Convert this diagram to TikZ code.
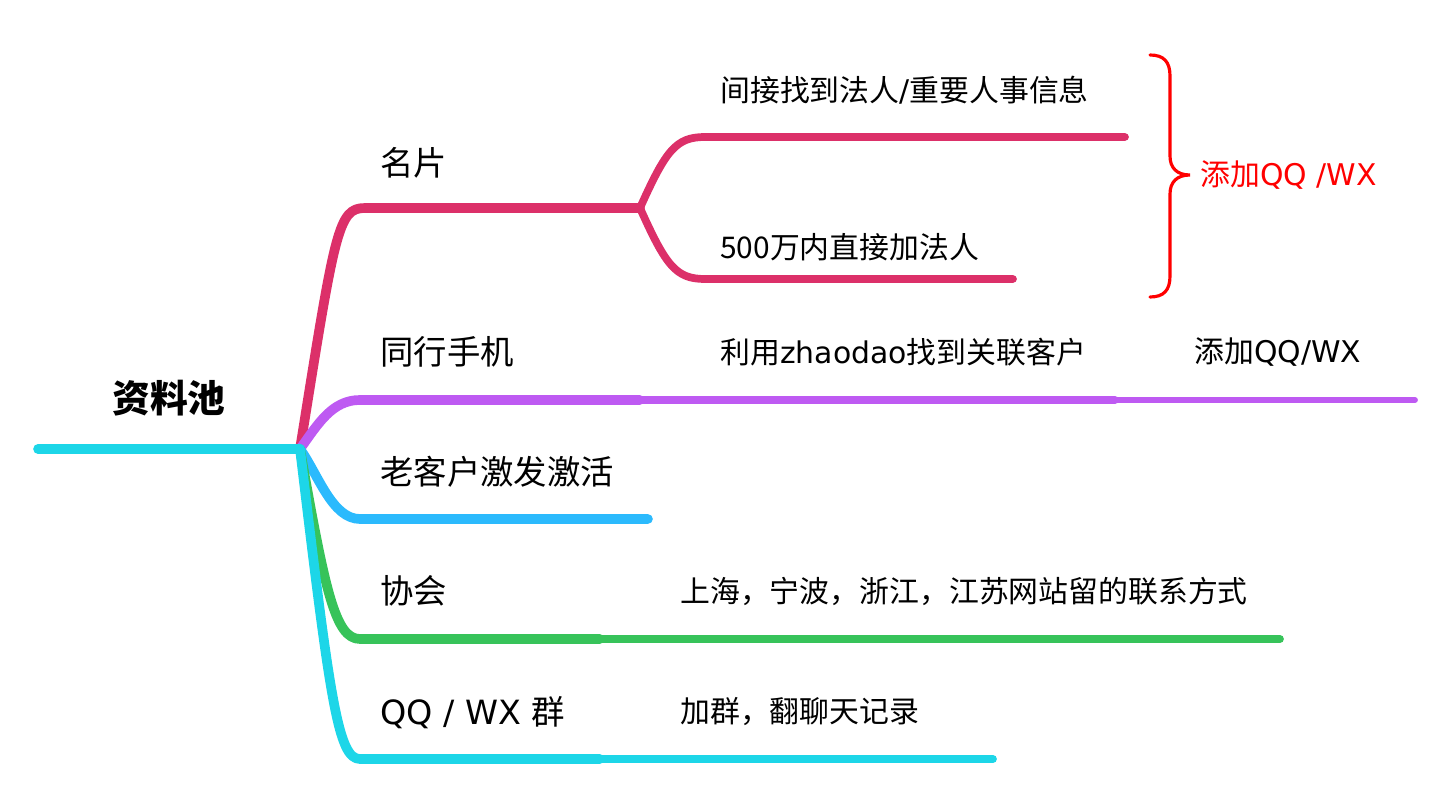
\documentclass[tikz,border=0pt]{standalone}
\usepackage{fontspec}
\newfontfamily\cjk{Noto Sans CJK SC}
\newfontfamily\latfont{DejaVu Sans}
\usetikzlibrary{calc}
\definecolor{mmRed}{HTML}{DC3069}
\definecolor{mmPurple}{HTML}{BE5AF2}
\definecolor{mmBlue}{HTML}{2BBAFD}
\definecolor{mmGreen}{HTML}{37C35A}
\definecolor{mmCyan}{HTML}{1DD6E8}
\tikzset{
    font=\cjk,
    % Lines
    trunk/.style={line width=5.5pt, line cap=round, line join=round},
    twig/.style={line width=4.4pt, line cap=round},
    leaf/.style={line width=3.3pt, line cap=round},
    % Labels
    rootLbl/.style={inner sep=0pt, font=\cjk\bfseries\fontsize{21.5pt}{26pt}\selectfont},
    topicLbl/.style={anchor=west, inner sep=0pt, font=\cjk\fontsize{19pt}{23pt}\selectfont},
    subLbl/.style={anchor=west, inner sep=0pt, font=\cjk\fontsize{17pt}{21pt}\selectfont},
    noteLbl/.style={subLbl, text=red}
}

\begin{document}
\begin{tikzpicture}[x=0.02cm, y=-0.02cm]
\useasboundingbox (0,0) rectangle (1453,800);

% root
\node[rootLbl] (root) at (169,398) {资料池};
\coordinate (start) at (38,449);
\coordinate (hub) at (300,449);

% branch ends
\coordinate (mpA) at (365,208);
\coordinate (mpFork) at (640,208);
\coordinate (mpUp) at (705,137);
\coordinate (mpUpEnd) at (1125,137);
\coordinate (mpLow) at (705,279);
\coordinate (mpLowEnd) at (1013,279);
\coordinate (thA) at (360,400);
\coordinate (thB) at (640,400);
\coordinate (thC) at (1115,400);
\coordinate (thEnd) at (1415,400);
\coordinate (lkA) at (360,519);
\coordinate (lkEnd) at (648,519);
\coordinate (xhA) at (360,639);
\coordinate (xhB) at (600,639);
\coordinate (xhEnd) at (1280,639);
\coordinate (qqA) at (360,759);
\coordinate (qqB) at (600,759);
\coordinate (qqEnd) at (993,759);

% 名片
\draw[trunk, mmRed] (hub) .. controls (335,230) and (338,208) .. (mpA) -- (mpFork);
\draw[twig, mmRed] (mpFork) .. controls (666,150) and (676,137) .. (mpUp) -- (mpUpEnd);
\draw[twig, mmRed] (mpFork) .. controls (666,266) and (676,279) .. (mpLow) -- (mpLowEnd);
% 同行手机
\draw[trunk, mmPurple] (hub) .. controls (318,424) and (332,400) .. (thA) -- (thB);
\draw[twig, mmPurple] (thB) -- (thC);
\draw[leaf, mmPurple] (thC) -- (thEnd);
% 老客户激发激活
\draw[trunk, mmBlue] (hub) .. controls (318,474) and (332,519) .. (lkA) -- (lkEnd);
% 协会
\draw[trunk, mmGreen] (hub) .. controls (325,590) and (335,639) .. (xhA) -- (xhB);
\draw[twig, mmGreen] (xhB) -- (xhEnd);
% QQ / WX 群
\draw[trunk, mmCyan] (hub) .. controls (330,700) and (338,759) .. (qqA) -- (qqB);
\draw[twig, mmCyan] (qqB) -- (qqEnd);
\draw[trunk, mmCyan] (start) -- (hub);

% labels
\node[topicLbl] (mp) at (380,163) {名片};
\node[subLbl] (mpSub1) at (720,90) {间接找到法人{\latfont /}重要人事信息};
\node[subLbl] (mpSub2) at (720,247) {500万内直接加法人};
\node[topicLbl] (th) at (380,352) {同行手机};
\node[subLbl] (thSub) at (720,352) {利用{\latfont zhaodao}找到关联客户};
\node[subLbl] (thAdd) at (1194,352) {添加{\latfont QQ/WX}};
\node[topicLbl] (lk) at (380,472) {老客户激发激活};
\node[topicLbl] (xh) at (380,591) {协会};
\node[subLbl] (xhSub) at (680,591) {上海，宁波，浙江，江苏网站留的联系方式};
\node[topicLbl] (qq) at (380,713) {{\latfont QQ / WX }群};
\node[subLbl] (qqSub) at (680,712) {加群，翻聊天记录};

% brace
\draw[red, line width=1.8pt, line cap=round]
    (1150,55) .. controls (1164,55) and (1170,62) .. (1170,76) -- (1170,156)
    .. controls (1170,168) and (1177,175) .. (1190,175)
    .. controls (1177,175) and (1170,182) .. (1170,194) -- (1170,276)
    .. controls (1170,290) and (1164,297) .. (1150,297);
\node[noteLbl] (note) at (1200,175) {添加{\latfont QQ /WX}};

\end{tikzpicture}
\end{document}
